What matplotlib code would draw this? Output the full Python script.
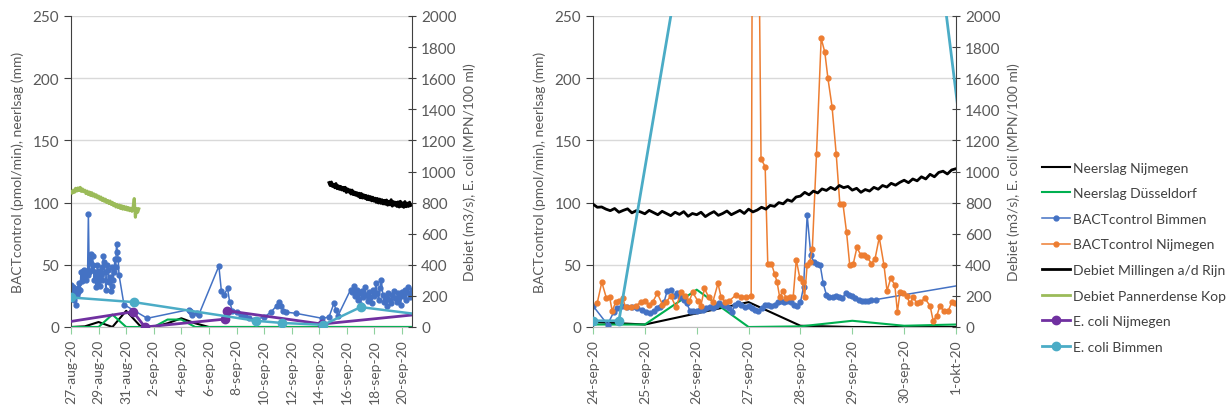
import numpy as np
import pandas as pd
import matplotlib
matplotlib.use('Agg')
import matplotlib.pyplot as plt
from matplotlib.lines import Line2D

plt.rcParams['font.family'] = ['Lato', 'DejaVu Sans']

# ---------------- left panel: times in days after 27-aug-2020 ----------------
left_start = pd.Timestamp('2020-08-27')
left_end_days = 24.72
left_tick_dates = ['2020-08-27', '2020-08-29', '2020-08-31', '2020-09-02', '2020-09-04',
                   '2020-09-06', '2020-09-08', '2020-09-10', '2020-09-12', '2020-09-14',
                   '2020-09-16', '2020-09-18', '2020-09-20']
left_tick_labels = ['27-aug-20', '29-aug-20', '31-aug-20', '2-sep-20', '4-sep-20', '6-sep-20',
                    '8-sep-20', '10-sep-20', '12-sep-20', '14-sep-20', '16-sep-20',
                    '18-sep-20', '20-sep-20']

# daily rainfall 27-aug .. 21-sep (mm)
neerslag_nijm_L = [0, 0.5, 4, 0, 13, 1, 0, 3, 7, 3, 0, 0, 0, 0, 0, 0, 0, 0, 0, 0, 0, 0, 0, 0, 0, 0]
neerslag_dus_L = [0, 0, 0, 10, 0, 0, 0, 6, 6, 0, 0, 0, 0, 0, 0, 0, 0, 0, 0, 0, 0, 0, 0, 0, 0, 0]

bimmen_L_t = [0.00, 0.06, 0.12, 0.18, 0.24, 0.30, 0.36, 0.42, 0.48, 0.54, 0.60, 0.66, 0.72, 0.78,
              0.84, 0.90, 0.96, 1.02, 1.08, 1.14, 1.20, 1.26, 1.32, 1.38, 1.44, 1.50, 1.56, 1.62,
              1.68, 1.74, 1.80, 1.86, 1.92, 1.98, 2.04, 2.10, 2.16, 2.22, 2.28, 2.34, 2.40, 2.46,
              2.52, 2.58, 2.64, 2.70, 2.76, 2.82, 2.88, 2.94, 3.00, 3.06, 3.12, 3.18, 3.24, 3.30,
              3.36, 3.42, 3.48, 3.84, 5.53, 8.55, 8.62, 8.70, 8.80, 9.10, 9.27, 10.72, 10.90, 11.10,
              11.35, 11.50, 11.70, 12.00, 12.30, 12.60, 12.90, 13.30, 14.00, 14.50, 14.90, 15.10,
              15.25, 15.40, 15.55, 16.30, 18.20, 18.70, 19.06, 19.20, 19.35, 20.27,
              20.40, 20.50, 20.60, 20.70, 20.80, 20.90, 21.00, 21.10, 21.20, 21.30, 21.40, 21.50,
              21.60, 21.70, 21.80, 21.90, 22.00, 22.10, 22.20, 22.30, 22.40, 22.50, 22.60, 22.70,
              22.80, 22.90, 23.00, 23.10, 23.20, 23.30, 23.40, 23.50, 23.60, 23.70, 23.80, 23.90,
              24.00, 24.10, 24.20, 24.30, 24.40, 24.50, 24.60, 24.70, 24.80]
bimmen_L_v = [34, 30, 27, 32, 22, 29, 18, 26, 31, 28, 35, 30, 44, 37,
              45, 40, 46, 42, 38, 45, 42, 91, 44, 52, 59, 46, 57, 50,
              38, 44, 32, 40, 50, 36, 45, 33, 42, 48, 38, 57, 52, 44,
              30, 37, 50, 46, 36, 40, 29, 33, 48, 38, 44, 55, 48, 67,
              60, 55, 42, 18, 7, 14, 13, 12, 10, 11, 10, 49, 29, 26,
              31, 20, 13, 12, 10, 9, 7, 6, 8, 12, 17, 20,
              17, 13, 12, 11, 7, 8, 19, 14, 9, 30,
              28, 33, 25, 30, 22, 27, 18, 29, 24, 32, 26, 21,
              28, 24, 19, 30, 25, 35, 27, 22, 31, 38, 26, 20,
              24, 17, 27, 22, 19, 26, 29, 23, 20, 27, 24, 18,
              28, 25, 30, 22, 32, 27, 24, 30, 26]

# river discharge, 2-hourly (m3/s)
pannerden_L_start = '2020-08-27 00:00'
pannerden_L = [870, 860, 880, 866, 892, 874, 894, 878, 898, 872, 888, 870,
               880, 858, 874, 852, 868, 846, 864, 842, 856, 836, 850, 830,
               842, 822, 836, 814, 828, 808, 822, 800, 814, 794, 810, 788,
               802, 780, 794, 772, 788, 768, 784, 762, 780, 758, 776, 756,
               772, 752, 768, 748, 764, 744, 770, 826, 706, 762, 738, 760]
millingen_L_start = '2020-09-14 17:00'
millingen_L = [928, 910, 932, 904, 918, 896, 922, 890, 908, 886, 904, 882,
               898, 876, 898, 866, 888, 868, 882, 856, 880, 852, 868, 848,
               864, 842, 860, 832, 858, 830, 850, 828, 846, 820, 842, 818,
               838, 812, 834, 810, 828, 802, 826, 798, 822, 796, 818, 792,
               814, 790, 816, 784, 808, 786, 818, 778, 806, 784, 802, 776,
               804, 772, 808, 776, 798, 770, 806, 774, 796, 776, 802, 782]

ecoli_nijm_L_t = [-1.0, 4.50, 5.36, 11.20, 11.30, 18.20, 25.50]
ecoli_nijm_L_v = [22, 98, 0, 51, 105, 19, 84]
ecoli_bimm_L_t = [0.0, 4.55, 13.40, 15.30, 18.30, 21.00, 25.50]
ecoli_bimm_L_v = [190, 160, 40, 26, 14, 128, 78]

# ---------------- right panel: times in days after 24-sep-2020 ----------------
right_start = pd.Timestamp('2020-09-24')
right_end_days = 7.0
right_tick_dates = ['2020-09-24', '2020-09-25', '2020-09-26', '2020-09-27', '2020-09-28',
                    '2020-09-29', '2020-09-30', '2020-10-01']
right_tick_labels = ['24-sep-20', '25-sep-20', '26-sep-20', '27-sep-20', '28-sep-20',
                     '29-sep-20', '30-sep-20', '1-okt-20']

neerslag_nijm_R = [4, 2, 11, 20, 1, 0, 0, 0]
neerslag_dus_R = [2, 2, 30, 0, 0.5, 5, 1, 2]

bimmen_R_t = [0.00, 0.28, 0.40, 0.46, 0.55, 0.65, 0.75, 0.85, 0.95, 1.03, 1.10, 1.17, 1.24, 1.30,
              1.37, 1.43, 1.50, 1.56, 1.62, 1.68, 1.75, 1.81, 1.87, 1.93, 2.00, 2.06, 2.12, 2.18,
              2.25, 2.31, 2.37, 2.43, 2.50, 2.56, 2.62, 2.68, 2.74, 2.80, 2.86, 2.93, 3.00, 3.06,
              3.12, 3.18, 3.25, 3.31, 3.37, 3.43, 3.50, 3.56, 3.62, 3.68, 3.75, 3.81, 3.87, 3.93,
              4.00, 4.06, 4.13, 4.20, 4.26, 4.32, 4.38, 4.44, 4.50, 4.56, 4.62, 4.68, 4.74, 4.81,
              4.87, 4.93, 5.00, 5.06, 5.12, 5.19, 5.25, 5.31, 5.37, 5.45, 7.00]
bimmen_R_v = [17, 2, 12, 15, 17, 16, 16, 15, 14, 12, 11, 13, 15, 16,
              20, 29, 30, 25, 27, 24, 22, 19, 13, 13, 13, 14, 14, 15,
              16, 15, 17, 19, 18, 17, 15, 12, 18, 19, 18, 16, 17, 15,
              14, 13, 15, 18, 18, 17, 18, 20, 21, 20, 21, 20, 18, 17,
              20, 32, 90, 58, 52, 51, 50, 35, 26, 24, 24, 25, 24, 23,
              27, 26, 25, 23, 22, 21, 21, 21, 22, 22, 33]

nijm_R_t = [0.08, 0.17, 0.26, 0.32, 0.37, 0.44, 0.50, 0.57, 0.63, 0.73, 0.83, 0.92, 1.01, 1.08,
            1.15, 1.24, 1.34, 1.41, 1.50, 1.60, 1.70, 1.78, 1.86, 1.92, 2.02, 2.08, 2.15, 2.23,
            2.31, 2.41, 2.47, 2.55, 2.63, 2.76, 2.86, 2.95, 3.05, 3.10, 3.16, 3.24, 3.32, 3.37,
            3.44, 3.50, 3.55, 3.60, 3.66, 3.73, 3.79, 3.86, 3.92, 3.99, 4.04, 4.08, 4.13, 4.18,
            4.23, 4.31, 4.40, 4.47, 4.53, 4.61, 4.69, 4.76, 4.82, 4.89, 4.95, 5.02, 5.09, 5.16,
            5.22, 5.29, 5.37, 5.44, 5.52, 5.61, 5.67, 5.74, 5.82, 5.87, 5.92, 5.98, 6.05, 6.11,
            6.18, 6.24, 6.31, 6.40, 6.50, 6.56, 6.63, 6.69, 6.76, 6.85, 6.92, 6.98]
nijm_R_v = [19, 36, 23, 24, 13, 20, 21, 23, 16, 16, 17, 20, 21, 18,
            20, 27, 18, 20, 25, 16, 28, 25, 21, 28, 21, 17, 31, 24,
            20, 35, 24, 20, 21, 26, 24, 24, 25, 700, 480, 135, 129, 51,
            51, 43, 36, 24, 29, 23, 24, 24, 54, 39, 36, 24, 50, 52,
            63, 139, 232, 221, 200, 177, 139, 99, 99, 76, 50, 51, 64, 58,
            58, 56, 51, 55, 72, 50, 29, 39, 34, 12, 28, 27, 25, 19,
            24, 19, 20, 23, 17, 5, 9, 17, 13, 13, 20, 19]

millingen_R_start = '2020-09-24 00:00'
millingen_R = [790, 770, 772, 758, 748, 762, 738, 750, 760, 734, 748, 740,
               728, 750, 736, 722, 744, 730, 716, 738, 724, 742, 712, 730,
               722, 738, 710, 728, 742, 718, 730, 746, 722, 736, 750, 730,
               758, 740, 752, 770, 758, 782, 776, 800, 792, 818, 808, 836,
               842, 866, 850, 874, 862, 888, 878, 898, 884, 910, 896, 904,
               880, 892, 866, 884, 874, 898, 886, 910, 900, 924, 912, 930,
               944, 928, 952, 940, 966, 952, 982, 966, 994, 1002, 984, 1010,
               1018]

ecoli_bimm_R_t = [0.0, 0.5, 2.0, 4.0, 6.0, 7.2]
ecoli_bimm_R_v = [40, 40, 2980, 6000, 4190, 970]

# ---------------- styles ----------------
C_NIJM_RAIN = 'black'
C_DUS_RAIN = '#00B050'
C_BIMMEN = '#4472C4'
C_NIJM = '#ED7D31'
C_MILL = 'black'
C_PANN = '#9BBB59'
C_ECN = '#7030A0'
C_ECB = '#4BACC6'
GRAY = '#595959'
FS = 10


def days(start, d):
    return start + pd.to_timedelta(np.asarray(d, dtype=float), unit='D')


def daily(start, vals):
    return pd.date_range(start, periods=len(vals), freq='D')


def two_hourly(start, vals):
    return pd.date_range(start, periods=len(vals), freq='2h')


def setup(ax, ax2, start, end_days, tick_dates, tick_labels):
    ax.set_xlim(start, start + pd.Timedelta(days=end_days))
    ax.set_ylim(0, 250)
    ax.set_yticks(range(0, 251, 50))
    ax2.set_ylim(0, 2000)
    ax2.set_yticks(range(0, 2001, 200))
    ax.set_xticks(pd.to_datetime(tick_dates))
    ax.set_xticklabels(tick_labels, rotation=90)
    ax.grid(axis='y', color='#d9d9d9', lw=1)
    ax.set_axisbelow(True)
    for s in ['top', 'right']:
        ax.spines[s].set_visible(False)
    for s in ['top', 'left', 'bottom']:
        ax2.spines[s].set_visible(False)
    ax.spines['left'].set_color('#404040')
    ax.spines['bottom'].set_color('#bfbfbf')
    ax2.spines['right'].set_color('#404040')
    ax.tick_params(axis='y', colors=GRAY, labelsize=11, length=5, direction='out')
    ax.tick_params(axis='x', colors=GRAY, labelsize=FS, length=5, direction='out')
    ax.tick_params(axis='x', color='#8fd19e')
    ax.tick_params(axis='y', color='#404040')
    ax2.tick_params(axis='y', colors=GRAY, labelsize=11, length=6, direction='inout')
    ax2.tick_params(axis='y', color='#404040')
    ax.set_ylabel('BACTcontrol (pmol/min), neerlsag (mm)', color=GRAY, fontsize=FS, labelpad=6)
    ax2.set_ylabel('Debiet (m3/s), E. coli (MPN/100 ml)', color=GRAY, fontsize=FS, labelpad=5)


fig = plt.figure(figsize=(12.27, 4.10), dpi=100)
axL = fig.add_axes([71 / 1227, 82 / 410, 341 / 1227, 311 / 410])
axL2 = axL.twinx()
axR = fig.add_axes([593 / 1227, 82 / 410, 363 / 1227, 311 / 410])
axR2 = axR.twinx()

# left panel
axL.plot(daily(left_start, neerslag_nijm_L), neerslag_nijm_L, color=C_NIJM_RAIN, lw=1.5)
axL.plot(daily(left_start, neerslag_dus_L), neerslag_dus_L, color=C_DUS_RAIN, lw=1.5)
axL.plot(days(left_start, bimmen_L_t), bimmen_L_v, color=C_BIMMEN, lw=1.1,
         marker='o', ms=3.5)
axL2.plot(two_hourly(millingen_L_start, millingen_L), millingen_L, color=C_MILL, lw=2.2)
axL2.plot(two_hourly(pannerden_L_start, pannerden_L), pannerden_L, color=C_PANN, lw=2.2)
axL2.plot(days(left_start, ecoli_nijm_L_t), ecoli_nijm_L_v, color=C_ECN, lw=2,
          marker='o', ms=6)
axL2.plot(days(left_start, ecoli_bimm_L_t), ecoli_bimm_L_v, color=C_ECB, lw=1.8,
          marker='o', ms=6)
setup(axL, axL2, left_start, left_end_days, left_tick_dates, left_tick_labels)

# right panel
axR.plot(daily(right_start, neerslag_nijm_R), neerslag_nijm_R, color=C_NIJM_RAIN, lw=1.5)
axR.plot(daily(right_start, neerslag_dus_R), neerslag_dus_R, color=C_DUS_RAIN, lw=1.5)
axR.plot(days(right_start, bimmen_R_t), bimmen_R_v, color=C_BIMMEN, lw=1.1,
         marker='o', ms=3.5, markevery=list(range(len(bimmen_R_v) - 1)))
axR.plot(days(right_start, nijm_R_t), nijm_R_v, color=C_NIJM, lw=1.1,
         marker='o', ms=3.5)
axR2.plot(two_hourly(millingen_R_start, millingen_R), millingen_R, color=C_MILL, lw=2)
axR2.plot(days(right_start, ecoli_bimm_R_t), ecoli_bimm_R_v, color=C_ECB, lw=2,
          marker='o', ms=6)
setup(axR, axR2, right_start, right_end_days, right_tick_dates, right_tick_labels)

handles = [
    Line2D([], [], color=C_NIJM_RAIN, lw=1.5),
    Line2D([], [], color=C_DUS_RAIN, lw=1.5),
    Line2D([], [], color=C_BIMMEN, lw=1.1, marker='o', ms=3.5),
    Line2D([], [], color=C_NIJM, lw=1.1, marker='o', ms=3.5),
    Line2D([], [], color=C_MILL, lw=2),
    Line2D([], [], color=C_PANN, lw=2),
    Line2D([], [], color=C_ECN, lw=2, marker='o', ms=6),
    Line2D([], [], color=C_ECB, lw=2, marker='o', ms=6),
]
labels = ['Neerslag Nijmegen', 'Neerslag Düsseldorf', 'BACTcontrol Bimmen',
          'BACTcontrol Nijmegen', 'Debiet Millingen a/d Rijn', 'Debiet Pannerdense Kop',
          'E. coli Nijmegen', 'E. coli Bimmen']
leg = fig.legend(handles, labels, loc='center left', bbox_to_anchor=(0.845, 0.37),
                 frameon=False, fontsize=FS, handlelength=2.0, handletextpad=0.2,
                 labelspacing=0.98, borderaxespad=0)
for t in leg.get_texts():
    t.set_color('#404040')

fig.savefig('out.png', dpi=100)
